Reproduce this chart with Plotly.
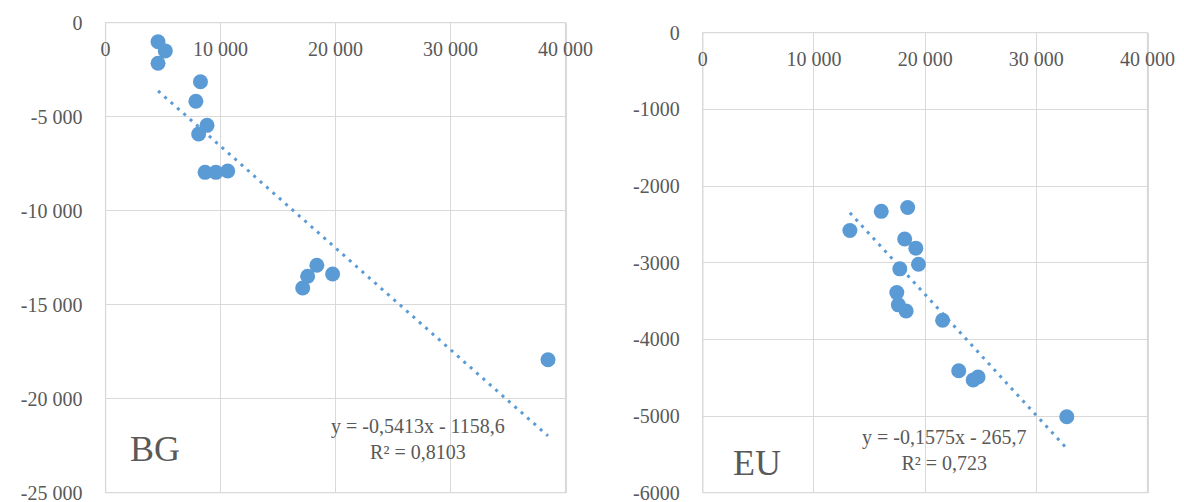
import plotly.graph_objects as go

# ---- data ----
bg_x = [4560, 5190, 4560, 8250, 7850, 8820, 8090, 8650, 9590, 10620, 18370, 17570, 17140, 19740, 38470]
bg_y = [-1010, -1500, -2160, -3140, -4180, -5460, -5920, -7960, -7960, -7890, -12900, -13490, -14110, -13370, -17930]
eu_x = [16050, 18430, 13230, 18160, 19160, 19400, 17720, 17450, 17590, 18290, 21570, 23020, 24320, 24760, 32740]
eu_y = [-2330, -2280, -2580, -2690, -2810, -3020, -3080, -3390, -3550, -3630, -3750, -4410, -4530, -4490, -5010]

bg_slope, bg_intercept = -0.5413, -1158.6
eu_slope, eu_intercept = -0.1575, -265.7
bg_eq = "y = -0,5413x - 1158,6<br>R² = 0,8103"
eu_eq = "y = -0,1575x - 265,7<br>R² = 0,723"

x_tickvals = [0, 10000, 20000, 30000, 40000]
x_ticktext = ["0", "10 000", "20 000", "30 000", "40 000"]
bg_y_tickvals = [0, -5000, -10000, -15000, -20000, -25000]
bg_y_ticktext = ["0", "-5 000", "-10 000", "-15 000", "-20 000", "-25 000"]
eu_y_tickvals = [0, -1000, -2000, -3000, -4000, -5000, -6000]
eu_y_ticktext = ["0", "-1000", "-2000", "-3000", "-4000", "-5000", "-6000"]

BLUE = "#5B9BD5"
GRID = "#D9D9D9"
TXT = "#595959"
FONT = "Liberation Serif"

# page body has an 8px default margin; size the figure to fill the rest of the window
OFF = 8
W, H = 1184 - OFF, 502 - OFF

def px_x(p):
    return (p - OFF) / W

def px_y(p):
    return 1 - (p - OFF) / H

fig = go.Figure()

# scatter points
fig.add_trace(go.Scatter(x=bg_x, y=bg_y, mode="markers", xaxis="x", yaxis="y",
                         marker=dict(color=BLUE, size=15), showlegend=False))
fig.add_trace(go.Scatter(x=eu_x, y=eu_y, mode="markers", xaxis="x2", yaxis="y2",
                         marker=dict(color=BLUE, size=15), showlegend=False))

# trend lines
DASH = "3px,5.5px"
bx = [min(bg_x), max(bg_x)]
fig.add_trace(go.Scatter(x=bx, y=[bg_slope * v + bg_intercept for v in bx], mode="lines",
                         xaxis="x", yaxis="y", line=dict(color=BLUE, width=3, dash=DASH),
                         showlegend=False))
ex = [min(eu_x), max(eu_x)]
fig.add_trace(go.Scatter(x=ex, y=[eu_slope * v + eu_intercept for v in ex], mode="lines",
                         xaxis="x2", yaxis="y2", line=dict(color=BLUE, width=3, dash=DASH),
                         showlegend=False))

tickfont = dict(family=FONT, size=20, color=TXT)

def xaxis_cfg(dom, pos):
    return dict(domain=dom, range=[0, 40000], tickvals=x_tickvals, ticktext=x_ticktext,
                side="bottom", anchor="free", position=pos, showgrid=True, gridcolor=GRID,
                gridwidth=1.3, zeroline=False, showline=False, ticks="outside", ticklen=8,
                tickcolor="rgba(0,0,0,0)", tickfont=tickfont, fixedrange=True, automargin=False,
                ticklabeloverflow="allow")

def yaxis_cfg(dom, rng, tv, tt, anchor):
    return dict(domain=dom, range=rng, tickvals=tv, ticktext=tt, anchor=anchor,
                showgrid=True, gridcolor=GRID, gridwidth=1.3, zeroline=False,
                showline=True, linecolor=GRID, linewidth=1.3, mirror=True, ticks="outside", ticklen=18,
                tickcolor="rgba(0,0,0,0)", tickfont=tickfont, fixedrange=True, automargin=False,
                ticklabeloverflow="allow")

left_dom = [px_x(105.6), px_x(565.6)]
right_dom = [px_x(702.8), px_x(1147.5)]
left_ydom = [px_y(492.7), px_y(22.7)]
right_ydom = [px_y(492.7), px_y(32.7)]

border = dict(type="rect", x0=0, x1=1, y0=0, y1=1, layer="below",
              line=dict(color=GRID, width=1.3), fillcolor="rgba(0,0,0,0)")

fig.update_layout(
    template="none",
    width=W, height=H,
    margin=dict(l=0, r=0, t=0, b=0, pad=0, autoexpand=False),
    paper_bgcolor="white", plot_bgcolor="white",
    font=dict(family=FONT, size=20, color=TXT),
    xaxis=xaxis_cfg(left_dom, left_ydom[1]),
    yaxis=yaxis_cfg(left_ydom, [-25000, 0], bg_y_tickvals, bg_y_ticktext, "x"),
    xaxis2=xaxis_cfg(right_dom, right_ydom[1]),
    yaxis2=yaxis_cfg(right_ydom, [-6000, 0], eu_y_tickvals, eu_y_ticktext, "x2"),
    shapes=[
        dict(border, xref="x domain", yref="y domain"),
        dict(border, xref="x2 domain", yref="y2 domain"),
    ],
    annotations=[
        dict(text="BG", xref="x", yref="y", x=4300, y=-22680, showarrow=False,
             xanchor="center", yanchor="middle", font=dict(family=FONT, size=36, color=TXT)),
        dict(text=bg_eq, xref="x", yref="y", x=27160, y=-22120, showarrow=False,
             xanchor="center", yanchor="middle", align="center",
             font=dict(family=FONT, size=20, color=TXT)),
        dict(text="EU", xref="x2", yref="y2", x=4880, y=-5610, showarrow=False,
             xanchor="center", yanchor="middle", font=dict(family=FONT, size=36, color=TXT)),
        dict(text=eu_eq, xref="x2", yref="y2", x=21700, y=-5447, showarrow=False,
             xanchor="center", yanchor="middle", align="center",
             font=dict(family=FONT, size=20, color=TXT)),
    ],
)

fig.write_html("out.html")
